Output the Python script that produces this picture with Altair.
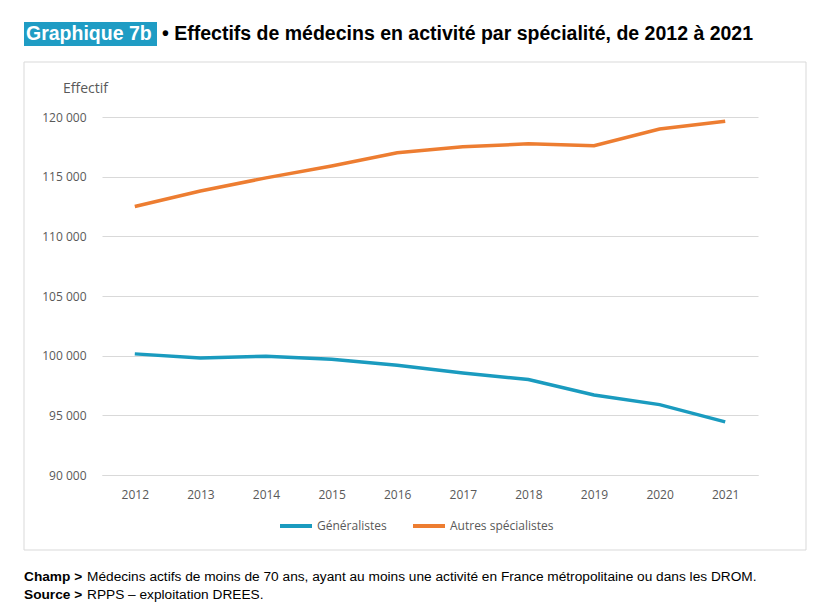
import altair as alt
import pandas as pd

years = ["2012", "2013", "2014", "2015", "2016", "2017", "2018", "2019", "2020", "2021"]
generalistes = [100150, 99800, 99950, 99700, 99200, 98550, 98000, 96700, 95900, 94450]
autres = [112500, 113800, 114900, 115900, 117000, 117500, 117750, 117600, 119000, 119650]
series = ["Généralistes", "Autres spécialistes"]
colors = ["#1a9bbf", "#ed7d31"]
y_ticks = [90000, 95000, 100000, 105000, 110000, 115000, 120000]

rows = []
for y, g, a in zip(years, generalistes, autres):
    rows.append({"annee": y, "serie": series[0], "effectif": g})
    rows.append({"annee": y, "serie": series[1], "effectif": a})
df = pd.DataFrame(rows)

W, H = 656, 358
NARROW = "Liberation Sans, Arial, sans-serif"
LABEL_FONT = "Open Sans, Liberation Sans, sans-serif"

one = pd.DataFrame({"k": [0]})

frame = alt.Chart(one).mark_rect(fillOpacity=0, stroke="#d9d9d9", strokeWidth=1).encode(
    x=alt.value(-78), x2=alt.value(704), y=alt.value(-55), y2=alt.value(433)
)

title_box = alt.Chart(one).mark_rect(fill="#1f9cc4").encode(
    x=alt.value(-78), x2=alt.value(55), y=alt.value(-95), y2=alt.value(-71)
)
title_lbl = alt.Chart(one).mark_text(
    text="Graphique 7b", font=NARROW, fontSize=19.5, fontWeight="bold", color="white",
    align="left", baseline="middle"
).encode(x=alt.value(-76), y=alt.value(-83))
title_main = alt.Chart(one).mark_text(
    text="• Effectifs de médecins en activité par spécialité, de 2012 à 2021", font=NARROW,
    fontSize=19.5, fontWeight="bold", color="black", align="left", baseline="middle"
).encode(x=alt.value(60), y=alt.value(-83))

FS = 13.7
foot1b = alt.Chart(one).mark_text(
    text="Champ >", font=NARROW, fontSize=FS, fontWeight="bold", color="black",
    align="left", baseline="middle"
).encode(x=alt.value(-78), y=alt.value(460))
foot1 = alt.Chart(one).mark_text(
    text="Médecins actifs de moins de 70 ans, ayant au moins une activité en France métropolitaine ou dans les DROM.",
    font=NARROW, fontSize=FS, color="black", align="left", baseline="middle"
).encode(x=alt.value(-15), y=alt.value(460))
foot2b = alt.Chart(one).mark_text(
    text="Source >", font=NARROW, fontSize=FS, fontWeight="bold", color="black",
    align="left", baseline="middle"
).encode(x=alt.value(-78), y=alt.value(478))
foot2 = alt.Chart(one).mark_text(
    text="RPPS – exploitation DREES.", font=NARROW, fontSize=FS, color="black",
    align="left", baseline="middle"
).encode(x=alt.value(-15), y=alt.value(478))

lines = alt.Chart(df).mark_line(strokeWidth=3.5).encode(
    x=alt.X("annee:O", scale=alt.Scale(type="point", padding=0.5),
            axis=alt.Axis(title=None, labelAngle=0, ticks=False, domain=True,
                          domainColor="#d9d9d9", labelColor="#595959",
                          labelFont=LABEL_FONT, labelFontSize=12, labelPadding=14, grid=False)),
    y=alt.Y("effectif:Q", scale=alt.Scale(domain=[90000, 120000], nice=False, zero=False),
            axis=alt.Axis(values=y_ticks, title="Effectif", titleAngle=0, titleAlign="center",
                          titleBaseline="middle", titleX=-17, titleY=-29,
                          titleFont=LABEL_FONT, titleFontSize=14, titleFontWeight="normal",
                          titleColor="#595959",
                          labelExpr="replace(format(datum.value, ','), ',', ' ')",
                          labelColor="#595959", labelFont=LABEL_FONT, labelFontSize=12,
                          labelPadding=16, ticks=False, domain=False, grid=True,
                          gridColor="#d9d9d9")),
    color=alt.Color("serie:N", scale=alt.Scale(domain=series, range=colors),
                    legend=alt.Legend(title=None, orient="none", direction="horizontal",
                                      legendX=176, legendY=391, symbolType="stroke",
                                      symbolSize=1024, symbolStrokeWidth=4,
                                      labelFont=LABEL_FONT, labelFontSize=12,
                                      labelColor="#595959", labelOffset=3,
                                      columnPadding=18)),
)

chart = alt.layer(
    frame, title_box, title_lbl, title_main, foot1b, foot1, foot2b, foot2, lines
).properties(
    width=W, height=H,
    autosize=alt.AutoSizeParams(type="none"),
    padding={"left": 94, "top": 109, "right": 60, "bottom": 133},
    background="white",
).configure_view(stroke=None)

chart.save("out.html", embed_options={"renderer": "svg", "actions": False})
